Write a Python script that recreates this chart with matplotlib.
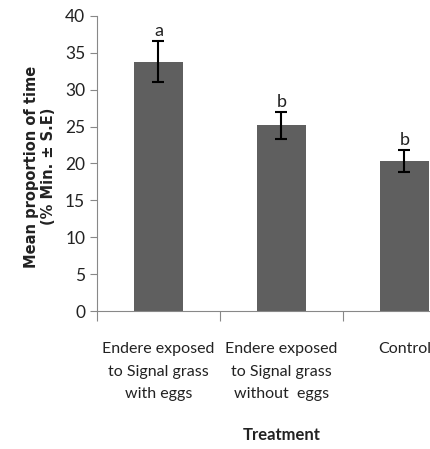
import matplotlib.pyplot as plt
import numpy as np

treatments = ["Endere exposed\nto Signal grass\nwith eggs",
              "Endere exposed\nto Signal grass\nwithout  eggs",
              "Control"]
means = [33.8, 25.15, 20.3]
errors = [2.8, 1.85, 1.5]
letters = ["a", "b", "b"]
yticks = [0, 5, 10, 15, 20, 25, 30, 35, 40]

plt.rcParams['font.family'] = ['Lato', 'DejaVu Sans']

fig = plt.figure(figsize=(4.31, 4.49), dpi=100)
ax = fig.add_axes([0.225, 0.307, 0.856, 0.658])

x = np.arange(len(means))
ax.bar(x, means, width=0.4, color='#5f5f5f', zorder=2)
ax.errorbar(x, means, yerr=errors, fmt='none', ecolor='black',
            elinewidth=1.5, capsize=4, capthick=1.5, zorder=3)

for xi, m, e, l in zip(x, means, errors, letters):
    ax.text(xi, m + e + 0.3, l, ha='center', va='bottom', fontsize=13, color='#222222')

ax.set_xlim(-0.5, 2.5)
ax.set_ylim(0, 40)
ax.set_yticks(yticks)
ax.tick_params(axis='y', labelsize=12.5, colors='#888888', labelcolor='#222222',
               length=5, direction='out')

ax.set_xticks([-0.5, 0.5, 1.5, 2.5])
ax.set_xticklabels([])
ax.tick_params(axis='x', which='major', length=7, colors='#888888')
ax.set_xticks(x, minor=True)
ax.set_xticklabels(treatments, minor=True, fontsize=11.5, color='#222222', linespacing=1.8)
ax.tick_params(axis='x', which='minor', length=0, pad=22)

for s in ['top', 'right']:
    ax.spines[s].set_visible(False)
for s in ['left', 'bottom']:
    ax.spines[s].set_color('#888888')

ax.set_ylabel("Mean proportion of time\n(% Min. ± S.E)", fontsize=10.5,
              fontweight='bold', color='#222222', linespacing=1.15,
              family='DejaVu Sans')
ax.yaxis.set_label_coords(-0.112, 0.49)

fig.text(0.653, 0.031, "Treatment", ha='center', va='center', fontsize=12,
         fontweight='bold', color='#222222')

fig.savefig('out.png', dpi=100)
